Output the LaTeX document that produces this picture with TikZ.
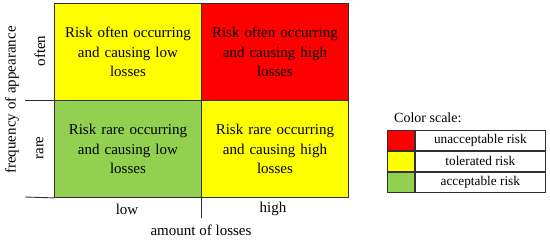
\documentclass[tikz,border=0pt]{standalone}
\usepackage{fontspec}
\setmainfont{Liberation Serif}
\definecolor{riskred}{HTML}{FF0000}
\definecolor{riskyellow}{HTML}{FFFF00}
\definecolor{riskgreen}{HTML}{92D050}
\definecolor{gridline}{HTML}{303030}
\begin{document}
\begin{tikzpicture}[x=1pt,y=-1pt,
  cell/.style={draw=gridline,line width=0.9pt,minimum width=147pt,minimum height=97pt,inner sep=0pt,anchor=north west,align=center,text width=145pt,font=\fontsize{15}{19.3}\selectfont},
  axis/.style={draw=gridline,line width=0.9pt},
  lbl/.style={font=\fontsize{15}{17}\selectfont,inner sep=0pt},
  leg/.style={draw=gridline,line width=0.9pt,minimum height=20pt,inner sep=0pt,anchor=north west,font=\fontsize{13.3}{15}\selectfont}]
\useasboundingbox (0,0) rectangle (550,241);
\node[cell,fill=riskyellow] (c11) at (54,3) {Risk often occurring\\and causing low\\losses};
\node[cell,fill=riskred] (c12) at (201,3) {Risk often occurring\\and causing high\\losses};
\node[cell,fill=riskgreen] (c21) at (54,100) {Risk rare occurring\\and causing low\\losses};
\node[cell,fill=riskyellow] (c22) at (201,100) {Risk rare occurring\\and causing high\\losses};
\coordinate (hl1) at (25,100);
\coordinate (hl2) at (25,197);
\coordinate (vl) at (201,218);
\draw[axis] (hl1) -- (c21.north west);
\draw[axis] (hl2) -- (c21.south west);
\draw[axis] (c22.south west) -- (vl);
\node[lbl,rotate=90] (often) at (40,51) {often};
\node[lbl,rotate=90] (rare) at (40,148) {rare};
\node[lbl,rotate=90] (freq) at (12,100) {frequency of appearance};
\node[lbl] (low) at (127,209) {low};
\node[lbl] (high) at (273,209) {high};
\node[lbl] (amount) at (201,230) {amount of losses};
\node[lbl,anchor=west,font=\fontsize{14}{16}\selectfont] (cs) at (394,118) {Color scale:};
\node[leg,fill=riskred,minimum width=27pt] (r1) at (387,130) {};
\node[leg,minimum width=130pt] (t1) at (r1.north east) {unacceptable risk};
\node[leg,fill=riskyellow,minimum width=27pt] (r2) at (r1.south west) {};
\node[leg,minimum width=130pt] (t2) at (r2.north east) {tolerated risk};
\node[leg,fill=riskgreen,minimum width=27pt] (r3) at (r2.south west) {};
\node[leg,minimum width=130pt] (t3) at (r3.north east) {acceptable risk};
\end{tikzpicture}
\end{document}
